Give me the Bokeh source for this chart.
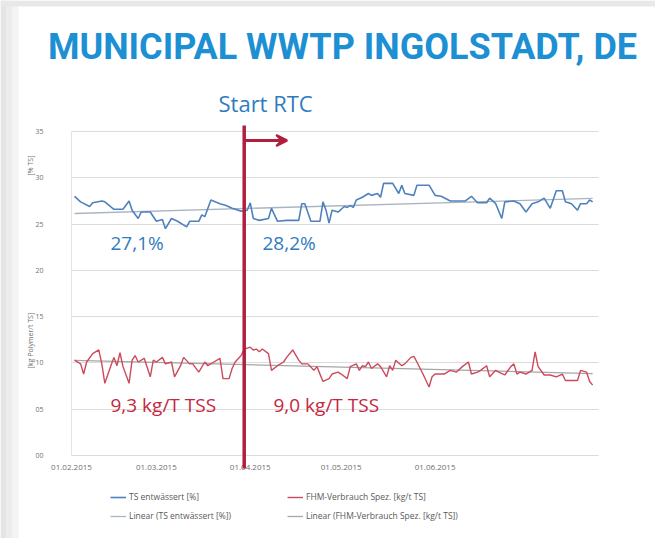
import numpy as np
import pandas as pd
from bokeh.plotting import figure
from bokeh.models import (Label, Arrow, VeeHead, Legend, LegendItem, FixedTicker,
                          DatetimeTickFormatter, Range1d, BoxAnnotation)
from bokeh.embed import file_html
from bokeh.resources import INLINE

# ---------------- data ----------------
start_date = "2015-02-01"
rtc_start = "2015-03-30"

ts_day = [1, 3, 6, 7, 10, 11, 14, 17, 19, 20, 22, 23, 26, 28, 30, 31, 33, 35, 38, 39,
          42, 43, 44, 46, 49, 51, 53, 56, 58, 59, 60, 62, 65, 66, 68, 71, 75, 76, 77, 79,
          82, 83, 84, 85, 86, 88, 90, 91, 92, 93, 94, 96, 98, 99, 101, 102, 103, 106, 108, 109,
          110, 113, 114, 118, 120, 122, 125, 130, 132, 134, 137, 138, 140, 142, 143, 146, 148, 150, 152, 154,
          156, 158, 160, 162, 163, 165, 167, 168, 170, 171, 172]
ts_val = [28.0, 27.4, 26.9, 27.3, 27.5, 27.4, 26.6, 26.6, 27.5, 26.5, 25.6, 26.3, 26.3, 25.3, 25.5, 24.5, 25.6, 25.3, 24.7, 25.3,
          25.3, 26.0, 25.8, 27.6, 27.2, 27.0, 26.7, 26.4, 26.5, 27.3, 25.6, 25.4, 25.6, 26.7, 25.3, 25.4, 25.4, 27.2, 27.2, 25.3,
          25.3, 27.4, 26.5, 25.1, 26.5, 26.3, 26.9, 26.8, 27.0, 26.8, 27.6, 27.9, 28.3, 28.1, 28.3, 27.9, 29.4, 29.4, 28.3, 29.2,
          28.3, 28.1, 29.2, 29.2, 28.1, 28.0, 27.5, 27.5, 28.0, 27.3, 27.3, 27.8, 27.2, 25.6, 27.4, 27.5, 27.2, 26.3, 27.2, 27.4,
          27.8, 26.7, 28.6, 28.6, 27.4, 27.2, 26.5, 27.2, 27.2, 27.6, 27.4]

fhm_day = [1, 3, 4, 5, 7, 9, 10, 11, 13, 14, 15, 16, 17, 19, 20, 21, 22, 24, 26, 27,
           28, 30, 31, 33, 34, 36, 37, 39, 40, 42, 44, 45, 47, 49, 50, 52, 53, 54, 56, 57,
           59, 60, 61, 62, 63, 65, 66, 68, 70, 71, 73, 75, 76, 78, 80, 81, 83, 85, 86, 88,
           89, 91, 92, 94, 95, 96, 97, 98, 99, 101, 102, 104, 105, 106, 107, 109, 110, 112, 113, 114,
           116, 118, 119, 120, 123, 125, 127, 129, 131, 132, 134, 135, 137, 138, 140, 141, 143, 145, 146, 147,
           148, 150, 152, 153, 154, 156, 158, 160, 162, 163, 165, 167, 168, 170, 171, 172]
fhm_val = [10.3, 9.9, 8.8, 10.1, 11.0, 11.4, 9.9, 7.8, 9.7, 10.6, 9.7, 11.1, 9.6, 7.8, 10.3, 10.8, 10.1, 10.5, 8.5, 10.3,
           10.1, 10.6, 9.9, 10.1, 8.5, 9.7, 10.6, 9.9, 9.9, 9.0, 10.1, 9.7, 10.1, 10.5, 8.3, 8.3, 9.4, 10.1, 10.8, 11.5,
           11.7, 11.4, 11.5, 11.2, 11.5, 11.0, 9.2, 9.7, 10.1, 10.6, 11.4, 10.3, 9.9, 9.9, 9.2, 9.6, 8.0, 8.3, 8.8, 9.0,
           8.8, 8.3, 9.6, 9.9, 9.2, 9.7, 9.6, 10.1, 9.4, 9.9, 9.6, 8.5, 9.7, 9.2, 10.3, 9.7, 9.9, 10.6, 10.7, 10.1,
           8.8, 7.4, 8.5, 8.8, 8.8, 9.2, 9.0, 9.6, 10.1, 8.8, 9.0, 9.2, 9.7, 8.5, 9.2, 9.0, 8.7, 9.6, 9.9, 8.8,
           9.0, 8.8, 9.2, 11.2, 9.6, 8.7, 8.7, 8.5, 8.8, 8.1, 8.1, 8.1, 9.2, 9.0, 8.0, 7.6]

x_tick_dates = ["2015-02-01", "2015-03-01", "2015-04-01", "2015-05-01", "2015-06-01"]
x_axis_days = 174
y_ticks = [0, 5, 10, 15, 20, 25, 30, 35]
y_tick_labels = ["00", "05", "10", "15", "20", "25", "30", "35"]

title_text = "MUNICIPAL WWTP INGOLSTADT, DE"
ts_name = "TS entwässert [%]"
fhm_name = "FHM-Verbrauch Spez. [kg/t TS]"

# ---------------- layout (pixels on the canvas) ----------------
W, H = 655, 538
X0_PX, PX_PER_DAY = 71, 3.03        # where 01.02.2015 sits, horizontal scale
Y0_PX, PX_PER_UNIT = 455, 9.257     # where 0 sits, vertical scale

t0 = pd.Timestamp(start_date)
day = pd.Timedelta(days=1)
x_range = Range1d(t0 - day * (X0_PX / PX_PER_DAY), t0 + day * ((W - X0_PX) / PX_PER_DAY))
y_range = Range1d(-(H - Y0_PX) / PX_PER_UNIT, Y0_PX / PX_PER_UNIT)

ts_x = t0 + pd.to_timedelta(ts_day, unit="D")
fhm_x = t0 + pd.to_timedelta(fhm_day, unit="D")
ts_fit = np.polyfit(ts_day, ts_val, 1)
fhm_fit = np.polyfit(fhm_day, fhm_val, 1)
trend_days = [ts_day[0], ts_day[-1]]
trend_x = t0 + pd.to_timedelta(trend_days, unit="D")
t0_ms = t0.value / 1e6
tend_ms = (t0 + day * x_axis_days).value / 1e6

BLUE = "#4f81bd"
RED = "#cc4a5c"
TXT_BLUE = "#2f7cc0"
TXT_RED = "#c3283f"
DARK_RED = "#b01f3d"
FONT = "Open Sans"

p = figure(width=W, height=H, output_backend="svg", toolbar_location=None,
           x_axis_type="datetime", x_range=x_range, y_range=y_range,
           min_border=0, min_border_left=0, min_border_right=0,
           min_border_top=0, min_border_bottom=0)
p.outline_line_color = None
p.background_fill_color = "white"
p.border_fill_color = "white"

# slide edge shading (left and top)
for l, r, c in [(0, 6, "#e4e4e4"), (6, 12, "#ececec"), (12, 18, "#f4f4f4")]:
    p.add_layout(BoxAnnotation(left=l, right=r, left_units="screen", right_units="screen",
                               fill_color=c, fill_alpha=1, line_color=None, level="underlay"))
p.add_layout(BoxAnnotation(top=H, bottom=H - 6, top_units="screen", bottom_units="screen",
                           fill_color="#e8e8e8", fill_alpha=1, line_color=None, level="underlay"))

p.xgrid.grid_line_color = None
p.ygrid.grid_line_color = "#dcdcdc"
p.ygrid.grid_line_width = 1
p.ygrid.cross_bounds = (t0_ms, tend_ms)

p.yaxis.fixed_location = t0_ms
p.yaxis.bounds = (0, 35)
p.yaxis.ticker = FixedTicker(ticks=y_ticks)
p.yaxis.major_label_overrides = {t: l for t, l in zip(y_ticks, y_tick_labels)}
p.yaxis.axis_line_color = "#e4e4e4"
p.yaxis.major_tick_line_color = None
p.yaxis.minor_tick_line_color = None
p.yaxis.major_label_standoff = 22
p.yaxis.major_label_text_font_size = "7px"
p.yaxis.major_label_text_color = "#707070"
p.yaxis.major_label_text_font = FONT

p.xaxis.fixed_location = 0
p.xaxis.ticker = FixedTicker(ticks=[pd.Timestamp(d).value / 1e6 for d in x_tick_dates])
fmt = "%d.%m.%Y"
p.xaxis.formatter = DatetimeTickFormatter(days=fmt, months=fmt, years=fmt, hours=fmt)
p.xaxis.axis_line_color = None
p.xaxis.major_tick_line_color = None
p.xaxis.minor_tick_line_color = None
p.xaxis.major_label_standoff = 3
p.xaxis.major_label_text_font_size = "8px"
p.xaxis.major_label_text_color = "#707070"
p.xaxis.major_label_text_font = FONT

r_ts_tr = p.line(trend_x, np.polyval(ts_fit, trend_days), line_color="#a9b4c2", line_width=1.3)
r_fhm_tr = p.line(trend_x, np.polyval(fhm_fit, trend_days), line_color="#a6a6a6", line_width=1.3)
r_ts = p.line(ts_x, ts_val, line_color=BLUE, line_width=1.6)
r_fhm = p.line(fhm_x, fhm_val, line_color=RED, line_width=1.4)

def sy(py):
    return H - py

# RTC marker (vertical bar + arrow)
rtc_px = X0_PX + (pd.Timestamp(rtc_start) - t0).days * PX_PER_DAY
p.add_layout(Arrow(end=None, x_start=rtc_px, y_start=sy(125), x_end=rtc_px, y_end=sy(468),
                   start_units="screen", end_units="screen",
                   line_color=DARK_RED, line_width=3.5))
p.add_layout(Arrow(end=VeeHead(size=11, line_color=DARK_RED, fill_color=DARK_RED, line_width=2),
                   x_start=rtc_px, y_start=sy(140), x_end=rtc_px + 43, y_end=sy(140),
                   start_units="screen", end_units="screen",
                   line_color=DARK_RED, line_width=3))

def lab(text, px, py, size, color, font=FONT, style="normal", align="left", angle=0):
    p.add_layout(Label(x=px, y=sy(py), x_units="screen", y_units="screen", text=text,
                       text_font=font, text_font_size=size, text_color=color,
                       text_font_style=style, text_align=align, angle=angle,
                       text_baseline="middle"))

lab(title_text, 342, 46, "36px", "#1d8fd3", font="Roboto", style="bold", align="center")
lab("Start RTC", 218, 102, "22px", TXT_BLUE)
lab("27,1%", 110, 242, "19px", TXT_BLUE)
lab("28,2%", 262, 242, "19px", TXT_BLUE)
lab("9,3 kg/T TSS", 110, 404, "19px", TXT_RED)
lab("9,0 kg/T TSS", 273, 404, "19px", TXT_RED)
lab("[% TS]", 30, 165, "7px", "#707070", align="center", angle=np.pi / 2)
lab("[kg Polymer/t TS]", 30, 340, "7px", "#707070", align="center", angle=np.pi / 2)

def make_legend(items, px):
    lg = Legend(items=items, location=(px, sy(521)), orientation="vertical",
                label_text_font_size="8.5px", label_text_font=FONT, label_text_color="#595959",
                glyph_width=16, glyph_height=10, label_height=10, label_standoff=3,
                spacing=8, padding=0, margin=0, border_line_color=None,
                background_fill_alpha=0)
    p.add_layout(lg)

make_legend([LegendItem(label=ts_name, renderers=[r_ts]),
             LegendItem(label="Linear (" + ts_name + ")", renderers=[r_ts_tr])], 110)
make_legend([LegendItem(label=fhm_name, renderers=[r_fhm]),
             LegendItem(label="Linear (" + fhm_name + ")", renderers=[r_fhm_tr])], 287)

open("out.html", "w").write(file_html(p, INLINE))
